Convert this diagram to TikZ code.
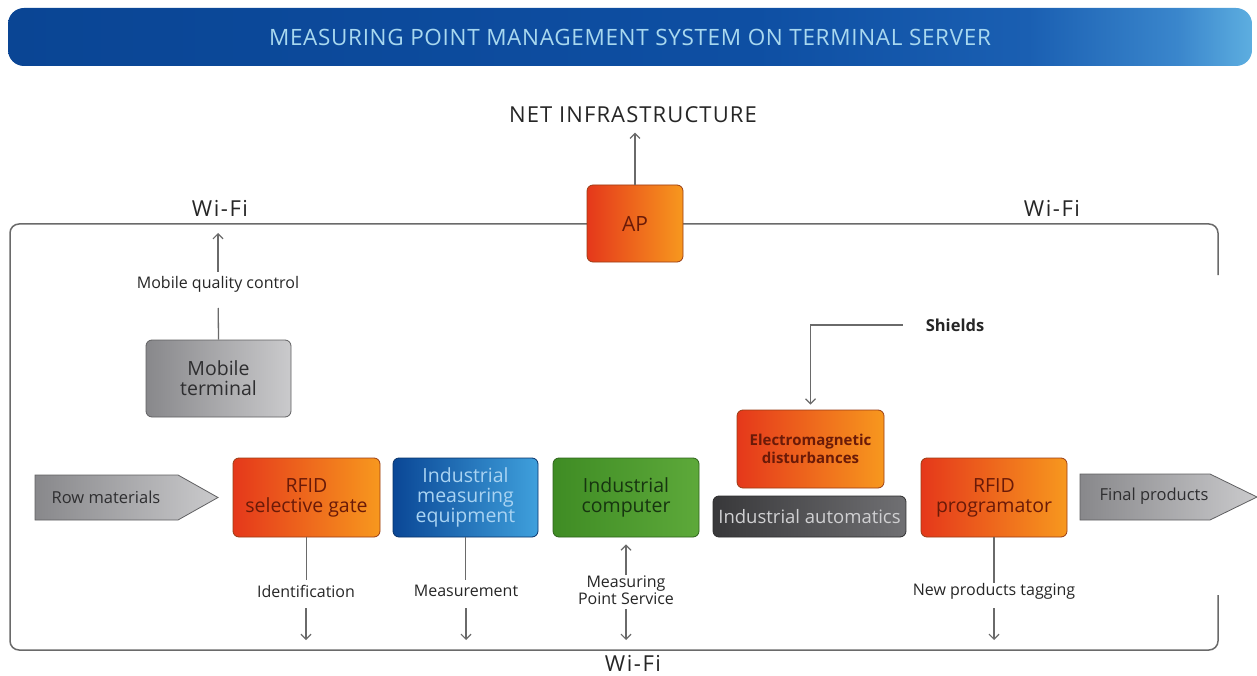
\documentclass[tikz,border=0pt]{standalone}
\usepackage{fontspec}
\setmainfont{Open Sans}
\usetikzlibrary{arrows.meta}

\definecolor{bnA}{HTML}{0A4594}
\definecolor{bnB}{HTML}{0E4FA3}
\definecolor{bnC}{HTML}{1A5FB2}
\definecolor{bnD}{HTML}{3A86CC}
\definecolor{bnE}{HTML}{5DAEE0}
\definecolor{bnT}{HTML}{A8D8EF}
\definecolor{orL}{HTML}{E5381B}
\definecolor{orR}{HTML}{F7981E}
\definecolor{orD}{HTML}{9A3C14}
\definecolor{orT}{HTML}{6A1A08}
\definecolor{blL}{HTML}{0A4796}
\definecolor{blR}{HTML}{3FA0DC}
\definecolor{blT}{HTML}{A9D3F2}
\definecolor{grL}{HTML}{3F8C24}
\definecolor{grR}{HTML}{5DA93A}
\definecolor{grT}{HTML}{173510}
\definecolor{gyL}{HTML}{88888B}
\definecolor{gyR}{HTML}{CACACC}
\definecolor{gyT}{HTML}{2E2E30}
\definecolor{dkL}{HTML}{38383A}
\definecolor{dkR}{HTML}{707073}
\definecolor{dkT}{HTML}{D0D0D2}
\definecolor{linegray}{HTML}{6A6A6A}
\definecolor{lbl}{HTML}{262626}

% the banner gradient stays dark and brightens towards the right end
\pgfdeclarehorizontalshading{bannershade}{100bp}{color(0bp)=(bnA); color(25bp)=(bnA);
  color(55bp)=(bnB); color(66bp)=(bnC); color(72bp)=(bnD); color(75bp)=(bnE);
  color(100bp)=(bnE)}

\tikzset{
  conn/.style={draw=linegray, line width=1.3pt},
  arr/.style={conn, -{Straight Barb[length=5pt,width=10pt,line width=1.2pt]}},
  box/.style={rounded corners=6pt, minimum width=146pt, minimum height=79pt,
    inner sep=2pt, align=center, line width=0.8pt,
    font=\fontsize{19.5}{20}\selectfont},
  orangebox/.style={box, left color=orL, right color=orR, draw=orD, text=orT},
  bluebox/.style={box, left color=blL, right color=blR, draw=blL!70!black, text=blT},
  greenbox/.style={box, left color=grL, right color=grR, draw=grL!70!black, text=grT},
  graybox/.style={box, left color=gyL, right color=gyR, draw=gyL!70!black, text=gyT},
  darkbox/.style={box, left color=dkL, right color=dkR, draw=dkL!80!black, text=dkT},
  flowshape/.style={draw=gyL!70!black, line width=0.8pt, left color=gyL, right color=gyR},
  flowtext/.style={text=gyT, font=\fontsize{16.5}{18}\selectfont, inner sep=0pt},
  lab/.style={font=\fontsize{16}{16.5}\selectfont, text=lbl, align=center, inner sep=1pt},
  wifi/.style={font=\fontsize{22}{24}\selectfont\addfontfeatures{LetterSpace=7}, text=black!85},
}

\begin{document}
\begin{tikzpicture}[x=1pt,y=-1pt]
\useasboundingbox (0,0) rectangle (1257,676);

% title banner
\node[rounded corners=16pt, minimum width=1244pt, minimum height=58pt,
  shading=bannershade, text=bnT,
  font=\fontsize{22.5}{24}\selectfont\addfontfeatures{LetterSpace=3}] (banner) at (630,37)
  {MEASURING POINT MANAGEMENT SYSTEM ON TERMINAL SERVER};

% Wi-Fi network loop
\coordinate (loopA) at (1218,275);
\coordinate (loopB) at (1218,595);
\draw[conn, line width=1.5pt, rounded corners=9pt]
  (loopA) -- (1218,224) -- (10,224) -- (10,650) -- (1218,650) -- (loopB);

\node[wifi] (wifiL) at (220,208) {Wi-Fi};
\node[wifi] (wifiR) at (1052,208) {Wi-Fi};
\node[wifi] (wifiB) at (633,663) {Wi-Fi};

% access point and uplink
\node[font=\fontsize{22}{24}\selectfont\addfontfeatures{LetterSpace=5}, text=black!85] (net) at (633,115) {NET INFRASTRUCTURE};
\node[orangebox, minimum width=96pt, minimum height=77pt, font=\fontsize{21}{23}\selectfont] (ap) at (635,223.5) {AP};
\draw[arr, shorten >=6pt] (ap) -- (ap |- net.south);

% mobile terminal
\node[graybox, minimum width=145pt, minimum height=77pt] (mobile) at (218.5,378.5) {Mobile\\terminal};
\node[lab] (mqc) at (218,284) {Mobile quality control};
\coordinate (mqcTop) at (218,233);
\draw[conn, shorten >=24pt] (mobile.north) -- (mqc.center);
\draw[arr] (mqc.north) ++(0,-3) -- (mqcTop);

% production line
\shade[flowshape] (35,475) -- (178,475) -- (218,497.5) -- (178,520) -- (35,520) -- cycle;
\node[flowtext] (row) at (106,497) {Row materials};
\node[orangebox, minimum width=147pt] (rfidg) at (306.5,497.5) {RFID\\selective gate};
\node[bluebox, minimum width=145pt] (ime) at (465.5,497.5) {Industrial\\measuring\\equipment};
\node[greenbox] (ic) at (626,497.5) {Industrial\\computer};
\node[orangebox, minimum width=147pt, minimum height=78pt,
  font=\fontsize{15}{17.5}\selectfont\bfseries] (emd) at (810.5,449) {Electromagnetic\\disturbances};
\node[darkbox, minimum width=193pt, minimum height=41pt, font=\fontsize{18.5}{20}\selectfont] (auto) at (809.5,516.5) {Industrial automatics};
\node[orangebox] (rfidp) at (994,497.5) {RFID\\programator};
\shade[flowshape] (1080,474) -- (1210,474) -- (1257,497) -- (1210,520) -- (1080,520) -- cycle;
\node[flowtext] (final) at (1154,496) {Final products};

% shields
\node[lab, font=\fontsize{16.5}{17}\selectfont\bfseries] (shields) at (955,325) {Shields};
\draw[arr, shorten >=5pt] (shields.west) ++(-22,0) -| (emd.north);

% links from the line to the Wi-Fi network
\node[lab] (ident) at (306,591) {Identification};
\node[lab] (meas) at (466,591) {Measurement};
\node[lab] (mps) at (626,590) {Measuring\\Point Service};
\node[lab] (npt) at (994,591) {New products tagging};

\coordinate (wIdent) at (306,640);
\coordinate (wMeas) at (466,640);
\coordinate (wMps) at (626,640);
\coordinate (wNpt) at (994,640);

\draw[conn] (rfidg.south) -- ++(0,43);
\draw[arr] (306,608) -- (wIdent);
\draw[conn] (ime.south) -- ++(0,43);
\draw[arr] (466,608) -- (wMeas);
\draw[arr, shorten >=7pt] (626,575) -- (ic.south);
\draw[arr] (626,609) -- (wMps);
\draw[conn] (rfidp.south) -- ++(0,46);
\draw[arr] (994,608) -- (wNpt);
\end{tikzpicture}
\end{document}
